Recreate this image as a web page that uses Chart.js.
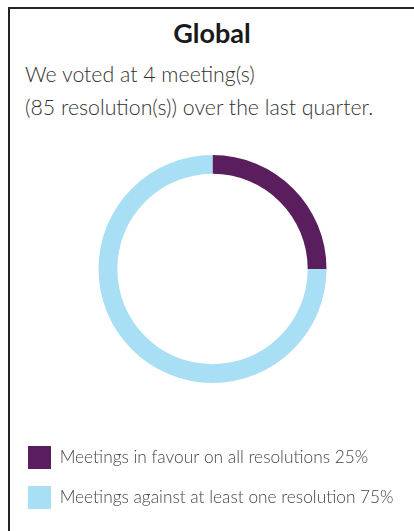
<!DOCTYPE html>
<html lang="en">
<head>
    <meta charset="UTF-8">
    <title>Global</title>
    <script src="https://cdn.jsdelivr.net/npm/chart.js"></script>
    <style>
        html, body {
            margin: 0;
            padding: 0;
            width: 414px;
            height: 531px;
            overflow: hidden;
            background: #fff;
            font-family: 'Lato', 'Open Sans', sans-serif;
        }
        /* panel with top + left rule */
        .panel {
            position: absolute;
            left: 8px;
            top: 7px;
            width: 420px;
            height: 600px;
            border-top: 2px solid #222;
            border-left: 2px solid #222;
        }
        h1 {
            position: absolute;
            left: 10px;
            width: 404px;
            top: 16px;
            margin: 0;
            text-align: center;
            font-size: 27px;
            font-weight: 700;
            color: #1a1a1a;
        }
        .intro {
            position: absolute;
            left: 25px;
            margin: 0;
            font-size: 21.3px;
            font-weight: 300;
            color: #333;
            white-space: nowrap;
        }
        #wrap {
            position: absolute;
            left: 11px;
            top: 109px;
            width: 403px;
            height: 410px;
        }
    </style>
</head>
<body>
    <div class="panel"></div>
    <h1>Global</h1>
    <p class="intro" style="top:61px">We voted at 4 meeting(s)</p>
    <p class="intro" style="top:94px">(85 resolution(s)) over the last quarter.</p>
    <div id="wrap"><canvas id="grafica"></canvas></div>
    <script>
        const categorias = ['Meetings in favour on all resolutions 25%', 'Meetings against at least one resolution 75%'];
        const valores = [25, 75];
        const colores = ['#5a1e5f', '#a9dff4'];

        const ctx = document.getElementById('grafica').getContext('2d');
        window.miGrafico = new Chart(ctx, {
            type: 'doughnut',
            data: {
                labels: categorias,
                datasets: [{
                    data: valores,
                    backgroundColor: colores,
                    borderWidth: 0
                }]
            },
            options: {
                responsive: true,
                maintainAspectRatio: false,
                animation: false,
                radius: 114,
                cutout: '83.5%',
                layout: { padding: 0 },
                plugins: {
                    tooltip: { enabled: false },
                    legend: {
                        position: 'bottom',
                        align: 'start',
                        labels: {
                            boxWidth: 23,
                            boxHeight: 23,
                            padding: 17,
                            color: '#444',
                            font: { family: 'Lato', size: 17.3, weight: '300' }
                        }
                    }
                }
            }
        });
    </script>
</body>
</html>
